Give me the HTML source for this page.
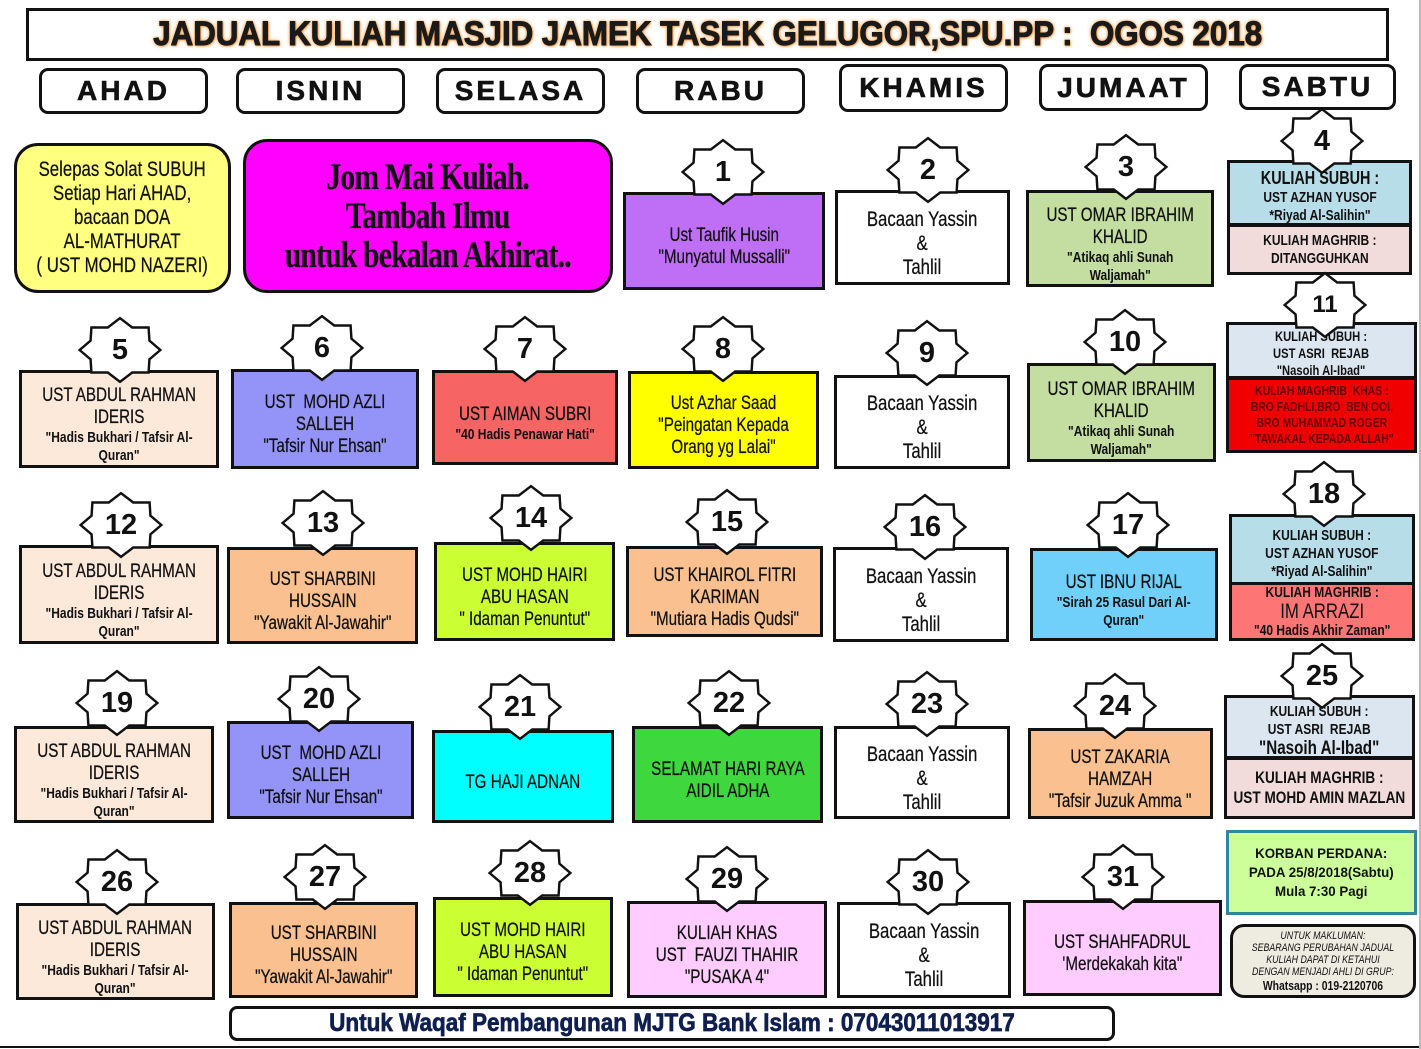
<!DOCTYPE html>
<html><head><meta charset="utf-8">
<style>
*{box-sizing:border-box;margin:0;padding:0}
body{width:1421px;height:1049px;background:#fff;position:relative;overflow:hidden;font-family:"Liberation Sans",sans-serif;color:#111}
.a{position:absolute}
.b{position:absolute;border:3px solid #111;display:flex;flex-direction:column;align-items:center;justify-content:center;text-align:center;font-size:19px;line-height:22px;padding-top:12px;-webkit-text-stroke:0.25px #111}
.t{display:inline-block;white-space:nowrap;transform:scaleX(0.8)}
.b small{display:block;font-size:15px;line-height:18px;font-weight:bold;-webkit-text-stroke:0}
.d{position:absolute;border:3px solid #111;border-radius:9px;display:flex;align-items:center;justify-content:center;font:bold 28px "Liberation Sans",sans-serif;letter-spacing:3px;color:#111;-webkit-text-stroke:0.6px #111}
.s{position:absolute;width:90px;height:68px}
.s span{position:absolute;left:0;top:0;width:90px;height:68px;display:flex;align-items:center;justify-content:center;font:bold 29px "Liberation Sans",sans-serif;color:#111}
.y{font-size:21px;line-height:24px}
.k{font-weight:bold;font-size:15px;line-height:18px;padding-top:0;-webkit-text-stroke:0}
</style></head><body>
<svg width="0" height="0" style="position:absolute"><defs><polygon id="st" points="38,0 27.7,8.8 26.9,21.2 11.5,21.2 0,30 -11.5,21.2 -26.9,21.2 -27.7,8.8 -38,0 -27.7,-8.8 -26.9,-21.2 -11.5,-21.2 0,-30 11.5,-21.2 26.9,-21.2 27.7,-8.8" fill="#fff" stroke="#111" stroke-width="2.3"/></defs></svg>

<div class="a" style="left:26px;top:8px;width:1363px;height:53px;border:3px solid #111;display:flex;align-items:center;justify-content:center;font:bold 34px 'Liberation Sans',sans-serif;color:#1a1a1a;text-shadow:0 0 3px #f7a04a,0 0 5px #f7a04a,1px 1px 2px #f39230;-webkit-text-stroke:1px #1a1a1a"><span class="t" style="transform:scaleX(0.92)">JADUAL KULIAH MASJID JAMEK TASEK GELUGOR,SPU.PP :&nbsp; OGOS 2018</span></div>

<div class="d" style="left:39px;top:68px;width:169px;height:46px">AHAD</div>
<div class="d" style="left:236px;top:68px;width:169px;height:46px">ISNIN</div>
<div class="d" style="left:436px;top:68px;width:169px;height:46px">SELASA</div>
<div class="d" style="left:636px;top:68px;width:169px;height:46px">RABU</div>
<div class="d" style="left:839px;top:64px;width:169px;height:48px">KHAMIS</div>
<div class="d" style="left:1039px;top:64px;width:169px;height:47px">JUMAAT</div>
<div class="d" style="left:1239px;top:64px;width:157px;height:46px">SABTU</div>

<div class="b" style="left:14px;top:143px;width:217px;height:150px;background:#ffff80;border-radius:24px;padding:0;font-size:21px;line-height:24px"><span class="t">Selepas Solat SUBUH<br>Setiap Hari AHAD,<br>bacaan DOA<br>AL-MATHURAT<br>( UST MOHD NAZERI)</span></div>
<div class="b" style="left:243px;top:139px;width:370px;height:154px;background:#ff00ff;border-radius:24px;padding:0;font:bold 37px/39px 'Liberation Serif',serif;letter-spacing:-1px;color:#111"><span class="t" style="transform:scaleX(0.8)">Jom Mai Kuliah.<br>Tambah Ilmu<br>untuk bekalan Akhirat..</span></div>

<!-- row1 -->
<div class="b" style="left:623px;top:192px;width:202px;height:98px;background:#bf6ff5"><span class="t">Ust Taufik Husin<br>"Munyatul Mussalli"</span></div>
<div class="b y" style="left:835px;top:190px;width:175px;height:95px;background:#fff"><span class="t">Bacaan Yassin<br>&amp;<br>Tahlil</span></div>
<div class="b" style="left:1026px;top:190px;width:188px;height:97px;background:#c3dea0"><span class="t">UST OMAR IBRAHIM<br>KHALID<small>"Atikaq ahli Sunah<br>Waljamah"</small></span></div>
<div class="b k" style="left:1227px;top:160px;width:185px;height:66px;background:#b7dde8;padding-top:8px"><span class="t"><span style="font-size:18px">KULIAH SUBUH :</span><br>UST AZHAN YUSOF<br>*Riyad Al-Salihin"</span></div>
<div class="b k" style="left:1227px;top:224px;width:185px;height:51px;background:#f2dcdb"><span class="t">KULIAH MAGHRIB :<br>DITANGGUHKAN</span></div>

<!-- row2 -->
<div class="b" style="left:19px;top:370px;width:200px;height:98px;background:#fde9d9"><span class="t">UST ABDUL RAHMAN<br>IDERIS<small>"Hadis Bukhari / Tafsir Al-<br>Quran"</small></span></div>
<div class="b" style="left:231px;top:369px;width:188px;height:100px;background:#9494f8"><span class="t">UST&nbsp; MOHD AZLI<br>SALLEH<br>"Tafsir Nur Ehsan"</span></div>
<div class="b" style="left:432px;top:370px;width:186px;height:95px;background:#f66464"><span class="t">UST AIMAN SUBRI<small>"40 Hadis Penawar Hati"</small></span></div>
<div class="b" style="left:628px;top:371px;width:191px;height:98px;background:#ffff00"><span class="t">Ust Azhar Saad<br>"Peingatan Kepada<br>Orang yg Lalai"</span></div>
<div class="b y" style="left:834px;top:375px;width:176px;height:94px;background:#fff"><span class="t">Bacaan Yassin<br>&amp;<br>Tahlil</span></div>
<div class="b" style="left:1027px;top:363px;width:189px;height:99px;background:#c3dea0"><span class="t">UST OMAR IBRAHIM<br>KHALID<small>"Atikaq ahli Sunah<br>Waljamah"</small></span></div>
<div class="b k" style="left:1226px;top:322px;width:191px;height:57px;background:#dce6f1;font-size:14px;line-height:17px;padding-top:6px"><span class="t">KULIAH SUBUH :<br>UST ASRI&nbsp; REJAB<br>"Nasoih Al-Ibad"</span></div>
<div class="b k" style="left:1226px;top:377px;width:191px;height:76px;background:#f00000;color:#600;font-size:13px;line-height:16px"><span class="t">KULIAH MAGHRIB&nbsp; KHAS :<br>BRO FADHLI,BRO&nbsp; BEN OOI,<br>BRO MUHAMMAD ROGER<br>"TAWAKAL KEPADA ALLAH"</span></div>

<!-- row3 -->
<div class="b" style="left:19px;top:545px;width:200px;height:99px;background:#fde9d9"><span class="t">UST ABDUL RAHMAN<br>IDERIS<small>"Hadis Bukhari / Tafsir Al-<br>Quran"</small></span></div>
<div class="b" style="left:227px;top:547px;width:191px;height:97px;background:#fac090"><span class="t">UST SHARBINI<br>HUSSAIN<br>"Yawakit Al-Jawahir"</span></div>
<div class="b" style="left:434px;top:542px;width:181px;height:99px;background:#ccff33"><span class="t">UST MOHD HAIRI<br>ABU HASAN<br>" Idaman Penuntut"</span></div>
<div class="b" style="left:626px;top:546px;width:197px;height:91px;background:#fac090"><span class="t">UST KHAIROL FITRI<br>KARIMAN<br>"Mutiara Hadis Qudsi"</span></div>
<div class="b y" style="left:833px;top:547px;width:176px;height:95px;background:#fff"><span class="t">Bacaan Yassin<br>&amp;<br>Tahlil</span></div>
<div class="b" style="left:1030px;top:548px;width:188px;height:93px;background:#70d0fa"><span class="t">UST IBNU RIJAL<small>"Sirah 25 Rasul Dari Al-<br>Quran"</small></span></div>
<div class="b k" style="left:1229px;top:514px;width:186px;height:71px;background:#b7dde8;padding-top:8px"><span class="t">KULIAH SUBUH :<br>UST AZHAN YUSOF<br>*Riyad Al-Salihin"</span></div>
<div class="b k" style="left:1229px;top:582px;width:186px;height:59px;background:#fd7575;line-height:17px"><span class="t">KULIAH MAGHRIB :<br><span style="font-size:21px;line-height:21px;font-weight:normal">IM ARRAZI</span><br>"40 Hadis Akhir Zaman"</span></div>

<!-- row4 -->
<div class="b" style="left:14px;top:726px;width:200px;height:97px;background:#fde9d9"><span class="t">UST ABDUL RAHMAN<br>IDERIS<small>"Hadis Bukhari / Tafsir Al-<br>Quran"</small></span></div>
<div class="b" style="left:227px;top:721px;width:187px;height:98px;background:#9494f8"><span class="t">UST&nbsp; MOHD AZLI<br>SALLEH<br>"Tafsir Nur Ehsan"</span></div>
<div class="b" style="left:432px;top:730px;width:182px;height:93px;background:#00ffff"><span class="t">TG HAJI ADNAN</span></div>
<div class="b" style="left:632px;top:726px;width:191px;height:97px;background:#3ed83e"><span class="t">SELAMAT HARI RAYA<br>AIDIL ADHA</span></div>
<div class="b y" style="left:834px;top:726px;width:176px;height:93px;background:#fff"><span class="t">Bacaan Yassin<br>&amp;<br>Tahlil</span></div>
<div class="b" style="left:1028px;top:728px;width:185px;height:91px;background:#fac090"><span class="t">UST ZAKARIA<br>HAMZAH<br>"Tafsir Juzuk Amma "</span></div>
<div class="b k" style="left:1224px;top:695px;width:191px;height:64px;background:#dce6f1;padding-top:8px"><span class="t">KULIAH SUBUH :<br>UST ASRI&nbsp; REJAB<br><span style="font-size:19px;line-height:20px">"Nasoih Al-Ibad"</span></span></div>
<div class="b k" style="left:1224px;top:757px;width:191px;height:62px;background:#f2dcdb;font-size:17px;line-height:20px"><span class="t">KULIAH MAGHRIB :<br>UST MOHD AMIN MAZLAN</span></div>
<div class="b k" style="left:1226px;top:830px;width:191px;height:85px;background:#ccff99;border-color:#31859c;font-size:14px;line-height:19px"><span class="t" style="transform:scaleX(0.95)">KORBAN PERDANA:<br>PADA 25/8/2018(Sabtu)<br>Mula 7:30 Pagi</span></div>
<div class="b" style="left:1230px;top:924px;width:186px;height:74px;background:#eeece1;border-radius:14px;padding:0;font-size:11px;line-height:12px;font-style:italic;-webkit-text-stroke:0"><span class="t">UNTUK MAKLUMAN:<br>SEBARANG PERUBAHAN JADUAL<br>KULIAH DAPAT DI KETAHUI<br>DENGAN MENJADI AHLI DI GRUP:<br><span style="font-style:normal;font-weight:bold;font-size:13px;line-height:15px">Whatsapp : 019-2120706</span></span></div>

<!-- row5 -->
<div class="b" style="left:16px;top:903px;width:199px;height:97px;background:#fde9d9"><span class="t">UST ABDUL RAHMAN<br>IDERIS<small>"Hadis Bukhari / Tafsir Al-<br>Quran"</small></span></div>
<div class="b" style="left:229px;top:902px;width:189px;height:96px;background:#fac090"><span class="t">UST SHARBINI<br>HUSSAIN<br>"Yawakit Al-Jawahir"</span></div>
<div class="b" style="left:433px;top:897px;width:180px;height:100px;background:#ccff33"><span class="t">UST MOHD HAIRI<br>ABU HASAN<br>" Idaman Penuntut"</span></div>
<div class="b" style="left:627px;top:901px;width:200px;height:97px;background:#ffccff"><span class="t">KULIAH KHAS<br>UST&nbsp; FAUZI THAHIR<br>"PUSAKA 4"</span></div>
<div class="b y" style="left:837px;top:902px;width:174px;height:96px;background:#fff"><span class="t">Bacaan Yassin<br>&amp;<br>Tahlil</span></div>
<div class="b" style="left:1023px;top:900px;width:199px;height:96px;background:#ffccff"><span class="t">UST SHAHFADRUL<br>'Merdekakah kita"</span></div>

<div class="a" style="left:229px;top:1006px;width:886px;height:35px;border:3px solid #111;border-radius:8px;display:flex;align-items:center;justify-content:center;font:bold 25px 'Liberation Sans',sans-serif;color:#0f1f4f;-webkit-text-stroke:0.7px #0f1f4f"><span class="t" style="transform:scaleX(0.9)">Untuk Waqaf Pembangunan MJTG Bank Islam : 07043011013917</span></div>
<div class="a" style="left:0;top:1046px;width:1421px;height:2px;background:#111"></div>
<div class="a" style="left:1419px;top:0;width:2px;height:1049px;background:#bbb"></div>

<!-- stars -->
<div class="s" style="left:678px;top:138px"><svg width="90" height="68" viewBox="-40 -32 80 64"><use href="#st"/></svg><span>1</span></div>
<div class="s" style="left:883px;top:136px"><svg width="90" height="68" viewBox="-40 -32 80 64"><use href="#st"/></svg><span>2</span></div>
<div class="s" style="left:1081px;top:133px"><svg width="90" height="68" viewBox="-40 -32 80 64"><use href="#st"/></svg><span>3</span></div>
<div class="s" style="left:1277px;top:107px"><svg width="90" height="68" viewBox="-40 -32 80 64"><use href="#st"/></svg><span>4</span></div>
<div class="s" style="left:75px;top:316px"><svg width="90" height="68" viewBox="-40 -32 80 64"><use href="#st"/></svg><span>5</span></div>
<div class="s" style="left:277px;top:314px"><svg width="90" height="68" viewBox="-40 -32 80 64"><use href="#st"/></svg><span>6</span></div>
<div class="s" style="left:480px;top:315px"><svg width="90" height="68" viewBox="-40 -32 80 64"><use href="#st"/></svg><span>7</span></div>
<div class="s" style="left:678px;top:315px"><svg width="90" height="68" viewBox="-40 -32 80 64"><use href="#st"/></svg><span>8</span></div>
<div class="s" style="left:882px;top:319px"><svg width="90" height="68" viewBox="-40 -32 80 64"><use href="#st"/></svg><span>9</span></div>
<div class="s" style="left:1080px;top:308px"><svg width="90" height="68" viewBox="-40 -32 80 64"><use href="#st"/></svg><span>10</span></div>
<div class="s" style="left:1280px;top:271px"><svg width="90" height="68" viewBox="-40 -32 80 64"><use href="#st"/></svg><span style="font-size:24px">11</span></div>
<div class="s" style="left:76px;top:491px"><svg width="90" height="68" viewBox="-40 -32 80 64"><use href="#st"/></svg><span>12</span></div>
<div class="s" style="left:278px;top:489px"><svg width="90" height="68" viewBox="-40 -32 80 64"><use href="#st"/></svg><span>13</span></div>
<div class="s" style="left:486px;top:484px"><svg width="90" height="68" viewBox="-40 -32 80 64"><use href="#st"/></svg><span>14</span></div>
<div class="s" style="left:682px;top:488px"><svg width="90" height="68" viewBox="-40 -32 80 64"><use href="#st"/></svg><span>15</span></div>
<div class="s" style="left:880px;top:493px"><svg width="90" height="68" viewBox="-40 -32 80 64"><use href="#st"/></svg><span>16</span></div>
<div class="s" style="left:1083px;top:491px"><svg width="90" height="68" viewBox="-40 -32 80 64"><use href="#st"/></svg><span>17</span></div>
<div class="s" style="left:1279px;top:460px"><svg width="90" height="68" viewBox="-40 -32 80 64"><use href="#st"/></svg><span>18</span></div>
<div class="s" style="left:72px;top:669px"><svg width="90" height="68" viewBox="-40 -32 80 64"><use href="#st"/></svg><span>19</span></div>
<div class="s" style="left:274px;top:665px"><svg width="90" height="68" viewBox="-40 -32 80 64"><use href="#st"/></svg><span>20</span></div>
<div class="s" style="left:475px;top:673px"><svg width="90" height="68" viewBox="-40 -32 80 64"><use href="#st"/></svg><span>21</span></div>
<div class="s" style="left:684px;top:669px"><svg width="90" height="68" viewBox="-40 -32 80 64"><use href="#st"/></svg><span>22</span></div>
<div class="s" style="left:882px;top:670px"><svg width="90" height="68" viewBox="-40 -32 80 64"><use href="#st"/></svg><span>23</span></div>
<div class="s" style="left:1070px;top:672px"><svg width="90" height="68" viewBox="-40 -32 80 64"><use href="#st"/></svg><span>24</span></div>
<div class="s" style="left:1277px;top:642px"><svg width="90" height="68" viewBox="-40 -32 80 64"><use href="#st"/></svg><span>25</span></div>
<div class="s" style="left:72px;top:848px"><svg width="90" height="68" viewBox="-40 -32 80 64"><use href="#st"/></svg><span>26</span></div>
<div class="s" style="left:280px;top:843px"><svg width="90" height="68" viewBox="-40 -32 80 64"><use href="#st"/></svg><span>27</span></div>
<div class="s" style="left:485px;top:839px"><svg width="90" height="68" viewBox="-40 -32 80 64"><use href="#st"/></svg><span>28</span></div>
<div class="s" style="left:682px;top:845px"><svg width="90" height="68" viewBox="-40 -32 80 64"><use href="#st"/></svg><span>29</span></div>
<div class="s" style="left:883px;top:848px"><svg width="90" height="68" viewBox="-40 -32 80 64"><use href="#st"/></svg><span>30</span></div>
<div class="s" style="left:1078px;top:843px"><svg width="90" height="68" viewBox="-40 -32 80 64"><use href="#st"/></svg><span>31</span></div>
</body></html>
